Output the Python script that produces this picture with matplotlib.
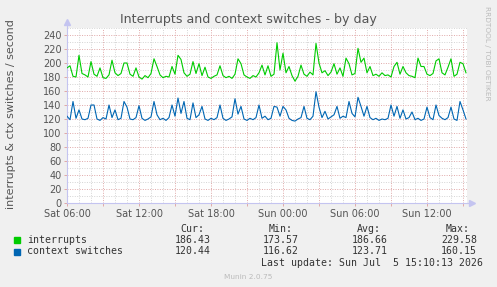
import matplotlib
matplotlib.use("Agg")
import matplotlib.pyplot as plt
from matplotlib.ticker import MultipleLocator, FixedLocator
import numpy as np

# 15 minute samples from Sat 06:00
interrupts = [
    193, 196, 181, 180, 211, 185, 183, 180, 202, 184,
    181, 193, 179, 178, 183, 204, 186, 182, 185, 200,
    200, 184, 181, 193, 180, 177, 182, 179, 185, 206,
    195, 183, 179, 181, 180, 195, 184, 211, 205, 186,
    181, 184, 202, 185, 199, 182, 194, 180, 178, 181,
    183, 196, 182, 179, 181, 178, 184, 206, 199, 183,
    180, 178, 182, 180, 186, 197, 183, 196, 181, 184,
    229, 190, 214, 186, 195, 182, 174, 181, 197, 184,
    181, 187, 183, 228, 200, 186, 189, 182, 187, 199,
    184, 193, 181, 207, 199, 183, 185, 221, 201, 207,
    186, 195, 182, 184, 181, 186, 182, 183, 180, 195,
    201, 184, 195, 186, 182, 181, 179, 207, 195, 195,
    184, 182, 185, 203, 206, 186, 183, 194, 206, 181,
    184, 201, 199, 186,
]
ctx_switches = [
    124, 119, 145, 121, 133, 120, 119, 121, 140, 140,
    120, 118, 122, 120, 140, 122, 133, 119, 121, 145,
    137, 120, 119, 122, 139, 121, 118, 120, 123, 145,
    126, 119, 121, 118, 122, 140, 124, 150, 128, 145,
    121, 119, 143, 122, 126, 138, 120, 118, 121, 119,
    122, 140, 121, 118, 120, 123, 149, 127, 138, 120,
    118, 121, 119, 122, 140, 121, 124, 119, 121, 138,
    137, 124, 138, 133, 121, 118, 117, 120, 122, 138,
    121, 119, 124, 159, 137, 122, 131, 120, 123, 126,
    138, 121, 124, 122, 145, 128, 123, 151, 138, 124,
    138, 122, 119, 121, 118, 120, 119, 121, 140, 124,
    138, 121, 133, 120, 122, 130, 119, 121, 118, 120,
    137, 122, 119, 140, 125, 121, 119, 122, 137, 120,
    118, 145, 133, 120,
]
hours = np.arange(len(interrupts)) * 0.25

tick_hours = [0, 6, 12, 18, 24, 30]
tick_labels = ["Sat 06:00", "Sat 12:00", "Sat 18:00", "Sun 00:00", "Sun 06:00", "Sun 12:00"]

legend_names = ["interrupts", "context switches"]
legend_colors = ["#00cc00", "#0066b3"]
cur = ["186.43", "120.44"]
vmin = ["173.57", "116.62"]
avg = ["186.66", "123.71"]
vmax = ["229.58", "160.15"]
last_update = "Last update: Sun Jul  5 15:10:13 2026"

W, H = 497, 287
fig = plt.figure(figsize=(W / 100, H / 100), dpi=100, facecolor="#f0f0f0")
ax = fig.add_axes([67 / W, (H - 203) / H, 400 / W, 175 / H])
ax.set_facecolor("white")

ax.plot(hours, interrupts, color=legend_colors[0], lw=0.8, zorder=3)
ax.plot(hours, ctx_switches, color=legend_colors[1], lw=0.8, zorder=3)

ax.set_xlim(0, 400 / 12)
ax.set_ylim(0, 250)

# grid: major every 3h / 20, minor every 1h / 10
major_x = list(np.arange(0, 34, 3))
ax.xaxis.set_major_locator(FixedLocator(major_x))
ax.set_xticklabels([tick_labels[tick_hours.index(h)] if h in tick_hours else "" for h in major_x])
ax.xaxis.set_minor_locator(MultipleLocator(1))
ax.yaxis.set_minor_locator(MultipleLocator(10))
ax.set_yticks(np.arange(0, 241, 20))

ax.grid(which="minor", color="#d4d4d4", lw=0.7, linestyle=(0, (1, 1.5)), zorder=1)
ax.grid(which="major", color="#e0a8a8", lw=0.7, linestyle=(0, (1, 1.5)), zorder=2)

for s in ["top", "right"]:
    ax.spines[s].set_visible(False)
for s in ["left", "bottom"]:
    ax.spines[s].set_color("#c4c4f0")
    ax.spines[s].set_linewidth(0.8)

ax.tick_params(which="major", length=2, width=0.7, color="#e0a8a8",
               labelsize=7, labelcolor="#555555", pad=2)
ax.tick_params(which="minor", length=0)

# axis arrows
ax.plot([0], [1.035], marker="^", ms=4, color="#c4c4f0", transform=ax.transAxes, clip_on=False)
ax.plot([0, 0], [1.0, 1.03], color="#c4c4f0", lw=0.8, transform=ax.transAxes, clip_on=False)
ax.plot([1.0, 1.0125], [0, 0], color="#c4c4f0", lw=0.8, transform=ax.transAxes, clip_on=False)
ax.plot([1.0125], [0], marker=">", ms=4, color="#c4c4f0", transform=ax.transAxes, clip_on=False)

fig.text(248.5 / W, 1 - 19 / H, "Interrupts and context switches - by day",
         ha="center", va="center", fontsize=9.1, color="#555555")
fig.text(11 / W, 1 - 114 / H, "interrupts & ctx switches / second",
         rotation=90, ha="center", va="center", fontsize=8, color="#555555")
fig.text(487 / W, 1 - 53 / H, "RRDTOOL / TOBI OETIKER", rotation=270,
         ha="center", va="center", fontsize=5.3, color="#bbbbbb")

mono = dict(family="DejaVu Sans Mono", fontsize=7.1, color="#333333", va="center")
for label, x in zip(["Cur:", "Min:", "Avg:", "Max:"], [204, 293, 381, 470]):
    fig.text(x / W, 1 - 229 / H, label, ha="right", **mono)
rows_y = [240, 251.5]
for k in range(2):
    y = 1 - rows_y[k] / H
    fig.patches.append(plt.Rectangle((14 / W, y - 3 / H), 6 / W, 6 / H,
                                     transform=fig.transFigure, color=legend_colors[k]))
    fig.text(27 / W, y, legend_names[k], ha="left", **mono)
    for val, x in zip([cur[k], vmin[k], avg[k], vmax[k]], [211, 299, 388, 477]):
        fig.text(x / W, y, val, ha="right", **mono)
fig.text(483 / W, 1 - 263 / H, last_update, ha="right", **mono)
fig.text(248 / W, 1 - 277 / H, "Munin 2.0.75", ha="center", va="center",
         fontsize=5.3, color="#bbbbbb")

fig.savefig("out.png", dpi=100, facecolor=fig.get_facecolor())
